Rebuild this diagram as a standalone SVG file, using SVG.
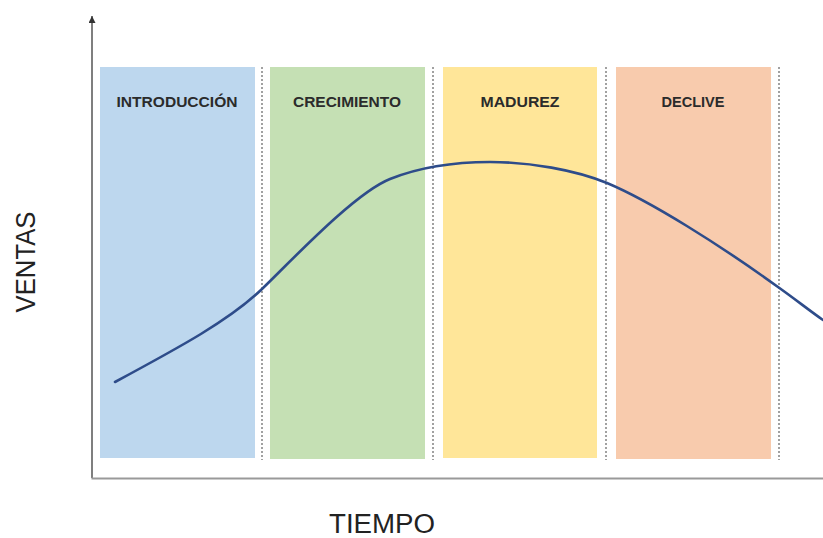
<svg xmlns="http://www.w3.org/2000/svg" width="823" height="538" viewBox="0 0 823 538">
<style>
.lbl{font-family:"Liberation Sans",Arial,sans-serif;font-size:15px;font-weight:bold;fill:#2b2b2b;text-anchor:middle}
.ax{font-family:"Liberation Sans",Arial,sans-serif;font-size:27px;fill:#222;text-anchor:middle}
.sep{stroke:#8a8a8a;stroke-width:1.6;stroke-dasharray:2 2}
</style>
<defs>
<marker id="arr" viewBox="0 0 10 10" refX="10" refY="5" markerWidth="8" markerHeight="7" orient="auto" markerUnits="userSpaceOnUse">
<path d="M0,0 L10,5 L0,10 Z" fill="#333"/>
</marker>
</defs>
<rect width="823" height="538" fill="#fff"/>
<g id="fase-introduccion">
<rect x="100" y="67" width="155" height="391" fill="#BDD7EE"/>
<text class="lbl" x="177" y="107" textLength="121" lengthAdjust="spacingAndGlyphs">INTRODUCCIÓN</text>
</g>
<g id="fase-crecimiento">
<rect x="270" y="67" width="155" height="392" fill="#C5E0B4"/>
<text class="lbl" x="347" y="107" textLength="108" lengthAdjust="spacingAndGlyphs">CRECIMIENTO</text>
</g>
<g id="fase-madurez">
<rect x="443" y="67" width="154" height="391" fill="#FFE699"/>
<text class="lbl" x="520" y="107" textLength="79" lengthAdjust="spacingAndGlyphs">MADUREZ</text>
</g>
<g id="fase-declive">
<rect x="616" y="67" width="155" height="392" fill="#F8CBAD"/>
<text class="lbl" x="693" y="107" textLength="63" lengthAdjust="spacingAndGlyphs">DECLIVE</text>
</g>
<g id="separadores">
<line class="sep" x1="262" y1="67" x2="262" y2="460"/>
<line class="sep" x1="433" y1="67" x2="433" y2="460"/>
<line class="sep" x1="606" y1="67" x2="606" y2="460"/>
<line class="sep" x1="779" y1="67" x2="779" y2="460"/>
</g>
<g id="ejes">
<line x1="92" y1="478" x2="92" y2="16" stroke="#555" stroke-width="1.5" marker-end="url(#arr)"/>
<line x1="91.5" y1="478.5" x2="823" y2="478.5" stroke="#999" stroke-width="2"/>
<text class="ax" x="382" y="533" text-anchor="start" textLength="106" lengthAdjust="spacingAndGlyphs">TIEMPO</text>
<text class="ax" transform="translate(35,262) rotate(-90)" x="0" y="0" textLength="101" lengthAdjust="spacingAndGlyphs">VENTAS</text>
</g>
<g id="curva">
<path d="M115,382 C180,347 230,320 262,289 C294,258 355,193 390,179 C425,165 465,162 490,162 C530,162 575,170 607,183 C650,201 720,245 778,287 C795,299 810,311 823,320" fill="none" stroke="#2E4C8A" stroke-width="2.6" stroke-linecap="round"/>
</g>
</svg>
